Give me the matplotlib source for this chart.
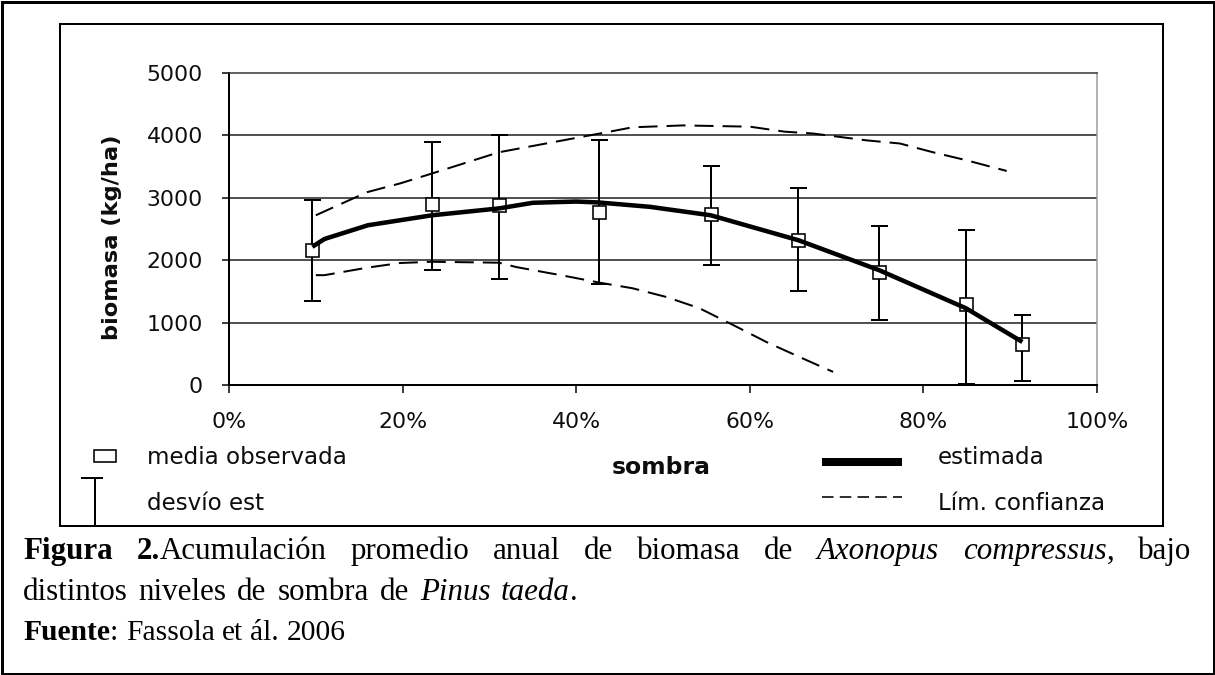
import matplotlib
matplotlib.use("Agg")
import matplotlib.pyplot as plt
from matplotlib.patches import Rectangle
from matplotlib.lines import Line2D

# ---------------- data ----------------
shade_obs = [9.6, 23.4, 31.1, 42.6, 55.5, 65.6, 74.9, 84.9, 91.4]          # % sombra
biomass_obs = [2170, 2900, 2885, 2775, 2745, 2320, 1815, 1305, 650]       # kg/ha
sd_top = [2970, 3890, 4000, 3930, 3505, 3165, 2555, 2480, 1120]
sd_bottom = [1350, 1850, 1695, 1625, 1925, 1505, 1045, 15, 65]

est_x = [9.6, 11, 16, 23.4, 31.1, 35, 40, 42.6, 48.5, 55.5, 65.6, 74.9, 84.9, 91.4]
est_y = [2215, 2340, 2560, 2720, 2830, 2920, 2940, 2925, 2855, 2720, 2320, 1840, 1230, 690]

ci_up_x = [10, 15.9, 19.7, 23.4, 31.1, 42.7, 46.5, 52.3, 60, 64, 67.3, 73.5, 77.3, 81.1, 85, 89.6]
ci_up_y = [2720, 3090, 3230, 3390, 3730, 4030, 4130, 4160, 4140, 4060, 4030, 3920, 3870, 3730, 3600, 3430]

ci_lo_x = [10, 11, 15.9, 19.7, 23.4, 31.1, 33.1, 39, 42.7, 46.5, 50.4, 54.2, 58.1, 61.9, 65.7, 69.6]
ci_lo_y = [1760, 1760, 1880, 1955, 1975, 1960, 1890, 1740, 1640, 1550, 1410, 1230, 960, 690, 450, 210]

x_ticks = [0, 20, 40, 60, 80, 100]
x_tick_labels = ["0%", "20%", "40%", "60%", "80%", "100%"]
y_ticks = [0, 1000, 2000, 3000, 4000, 5000]
y_tick_labels = ["0", "1000", "2000", "3000", "4000", "5000"]

# ---------------- figure ----------------
W, H = 1215, 675
PX = 72.0 / 100.0   # points per pixel at dpi 100
fig = plt.figure(figsize=(W / 100, H / 100), dpi=100)
fig.patch.set_facecolor("white")

sans = ["DejaVu Sans"]
tick_fs = 22 * PX
txt = "#0d0d0d"

ax_l, ax_r, ax_b, ax_t = 229, 1097, 385, 73
ax = fig.add_axes([ax_l / W, (H - ax_b) / H, (ax_r - ax_l) / W, (ax_b - ax_t) / H])
ax.set_xlim(0, 100)
ax.set_ylim(0, 5000)
ax.set_facecolor("white")

for y in y_ticks[1:-1]:
    ax.axhline(y, color="#1a1a1a", lw=1.5 * PX, zorder=1)

ax.spines["left"].set_linewidth(2 * PX)
ax.spines["bottom"].set_linewidth(2 * PX)
ax.spines["top"].set_linewidth(1.5 * PX)
ax.spines["top"].set_color("#333333")
ax.spines["right"].set_linewidth(1.5 * PX)
ax.spines["right"].set_color("#9a9a9a")

ax.set_xticks(x_ticks)
ax.set_xticklabels(x_tick_labels, fontsize=tick_fs, family=sans, color=txt)
ax.set_yticks(y_ticks)
ax.set_yticklabels(y_tick_labels, fontsize=tick_fs, family=sans, color=txt)
ax.tick_params(axis="y", direction="out", length=7 * PX, width=1.5 * PX, pad=19 * PX)
ax.tick_params(axis="x", direction="out", length=8 * PX, width=1.5 * PX, pad=19 * PX)

# error bars
yerr = [[m - b for m, b in zip(biomass_obs, sd_bottom)],
        [t - m for m, t in zip(biomass_obs, sd_top)]]
ax.errorbar(shade_obs, biomass_obs, yerr=yerr, fmt="none", ecolor="black",
            elinewidth=2 * PX, capsize=8.5 * PX, capthick=2 * PX, zorder=3,
            clip_on=False)

# confidence limits
dash = (0, (9.5, 4.5))
ax.plot(ci_up_x, ci_up_y, color="black", lw=2 * PX, linestyle=dash, zorder=2)
ax.plot(ci_lo_x, ci_lo_y, color="black", lw=2 * PX, linestyle=dash, zorder=2)

# observed means
ax.plot(shade_obs, biomass_obs, linestyle="none", marker="s", markersize=13 * PX,
        markerfacecolor="white", markeredgecolor="black", markeredgewidth=1.6 * PX,
        zorder=4)

# estimated curve
ax.plot(est_x, est_y, color="black", lw=4.5 * PX, solid_capstyle="butt", zorder=5)

# ---------------- overlay in pixel coordinates ----------------
ov = fig.add_axes([0, 0, 1, 1], zorder=10)
ov.set_xlim(0, W)
ov.set_ylim(H, 0)
ov.axis("off")
ov.patch.set_alpha(0)

ov.add_patch(Rectangle((1.5, 1.5), W - 3, H - 3, fill=False, ec="black", lw=3 * PX))
ov.add_patch(Rectangle((60, 24), 1103, 502, fill=False, ec="black", lw=2 * PX))

ov.text(112, 237, "biomasa (kg/ha)", rotation=90, ha="center", va="center",
        fontsize=22.5 * PX, family=sans, fontweight="bold", color=txt)
ov.text(661, 467, "sombra", ha="center", va="center", fontsize=23.5 * PX,
        family=sans, fontweight="bold", color=txt)

# legend
ov.add_patch(Rectangle((94, 450), 22, 12, fc="white", ec="black", lw=1.6 * PX))
ov.text(147, 457, "media observada", ha="left", va="center", fontsize=23 * PX,
        family=sans, color=txt)
ov.add_line(Line2D([95, 95], [478, 526], color="black", lw=2 * PX))
ov.add_line(Line2D([82, 102], [478, 478], color="black", lw=2 * PX))
ov.text(147, 503, "desvío est", ha="left", va="center", fontsize=23 * PX,
        family=sans, color=txt)
ov.add_line(Line2D([822, 902], [462, 462], color="black", lw=8 * PX,
                   solid_capstyle="butt"))
ov.text(938, 458, "estimada", ha="left", va="center", fontsize=23 * PX,
        family=sans, color=txt)
ov.add_line(Line2D([822, 902], [497, 497], color="black", lw=1.6 * PX,
                   linestyle=(0, (7.2, 3.9)), dash_capstyle="butt"))
ov.text(938, 503, "Lím. confianza", ha="left", va="center", fontsize=23 * PX,
        family=sans, color=txt)

# ---------------- caption ----------------
serif = ["Liberation Serif", "DejaVu Serif"]
renderer = fig.canvas.get_renderer()

def style(kind, px):
    d = dict(fontsize=px * PX, family=serif, color="black", va="baseline", ha="left")
    if kind == "b":
        d["fontweight"] = "bold"
    elif kind == "i":
        d["fontstyle"] = "italic"
    return d

def seg_w(s, kind, px):
    t = ov.text(0, 0, s, **style(kind, px))
    w = t.get_window_extent(renderer).width
    t.remove()
    return w

def draw_word(x, y, segs, px):
    for s, k in segs:
        ov.text(x, y, s, **style(k, px))
        x += seg_w(s, k, px)
    return x

cap_px = 31
left, right = 23, 1191
line1 = [[("Figura", "b")], [("2.", "b"), ("Acumulación", "n")], [("promedio", "n")],
         [("anual", "n")], [("de", "n")], [("biomasa", "n")], [("de", "n")],
         [("Axonopus", "i")], [("compressus", "i"), (",", "n")], [("bajo", "n")]]
widths = [sum(seg_w(s, k, cap_px) for s, k in w) for w in line1]
gap = (right - left - sum(widths)) / (len(line1) - 1)
x = left
for w, wd in zip(line1, widths):
    draw_word(x, 559, w, cap_px)
    x += wd + gap

space = seg_w("a a", "n", cap_px) - seg_w("aa", "n", cap_px)
line2 = [[("distintos", "n")], [("niveles", "n")], [("de", "n")], [("sombra", "n")],
         [("de", "n")], [("Pinus", "i")], [("taeda", "i"), (".", "n")]]
x = left
for w in line2:
    x = draw_word(x, 600, w, cap_px) + space + 3

src_px = 29.5
space3 = seg_w("a a", "n", src_px) - seg_w("aa", "n", src_px)
line3 = [[("Fuente", "b"), (":", "n")], [("Fassola", "n")], [("et", "n")],
         [("ál.", "n")], [("2006", "n")]]
x = left
for w in line3:
    x = draw_word(x, 640, w, src_px) + space3

fig.savefig("out.png", dpi=100)
